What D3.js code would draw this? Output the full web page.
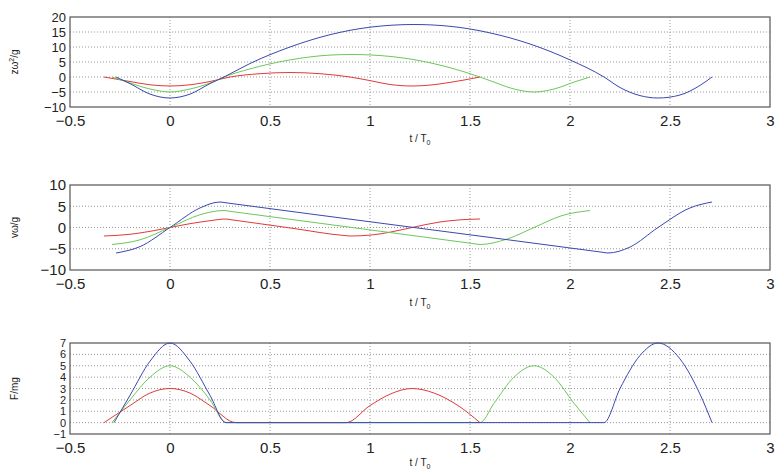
<!DOCTYPE html>
<html>
<head>
<meta charset="utf-8">
<script src="https://cdn.jsdelivr.net/npm/d3@7"></script>
<style>
  body { margin: 0; background: #fff; }
  text { font-family: "Liberation Sans", Arial, sans-serif; }
</style>
</head>
<body>
<div id="chart"></div>
<script>
// series data: [t/T0, value]
var zRed = [[-0.33,0],[-0.2,-1.5],[-0.1,-2.6],[0,-3],[0.1,-2.6],[0.2,-1.5],[0.3,0],[0.45,1.1],[0.6,1.5],[0.75,1.1],[0.9,0],[1.0,-1.2],[1.1,-2.5],[1.21,-3],[1.3,-2.7],[1.4,-1.8],[1.55,0]];
var zGreen = [[-0.29,0],[-0.2,-2],[-0.1,-4],[0,-5],[0.1,-4],[0.2,-2],[0.27,0],[0.4,2.7],[0.6,5.7],[0.8,7.3],[0.91,7.5],[1.0,7.35],[1.2,6.0],[1.4,3.1],[1.55,0],[1.62,-1.7],[1.72,-4],[1.82,-5],[1.92,-4],[2.02,-1.7],[2.1,0]];
var zBlue = [[-0.27,0],[-0.2,-2.2],[-0.1,-5.7],[0,-7],[0.1,-5.7],[0.2,-2.2],[0.27,0],[0.4,4.5],[0.6,10.0],[0.8,14.1],[1.0,16.6],[1.22,17.5],[1.4,16.9],[1.6,14.7],[1.8,11.0],[2.0,5.7],[2.17,0],[2.25,-3.5],[2.35,-6.2],[2.44,-7],[2.55,-6],[2.65,-2.8],[2.71,0]];

var vRed = [[-0.33,-2],[-0.2,-1.6],[-0.1,-0.9],[0,0],[0.1,0.9],[0.2,1.6],[0.28,2],[0.3,1.87],[0.6,-0.1],[0.88,-1.93],[0.9,-2],[1.0,-1.8],[1.1,-1.1],[1.21,0],[1.35,1.3],[1.45,1.8],[1.55,2]];
var vGreen = [[-0.29,-4],[-0.15,-2.9],[0,0],[0.15,3],[0.27,4],[0.3,3.81],[0.9,0.06],[1.52,-3.81],[1.55,-4],[1.68,-2.8],[1.82,0],[1.96,2.8],[2.1,4]];
var vBlue = [[-0.27,-6],[-0.15,-4.5],[0,0],[0.15,4.6],[0.25,6],[0.28,5.81],[1.2,0.12],[2.16,-5.81],[2.19,-6],[2.3,-4.6],[2.44,0],[2.6,4.6],[2.71,6]];

var fRed = [[-0.33,0],[-0.2,1.5],[-0.1,2.6],[0,3],[0.1,2.6],[0.2,1.5],[0.33,0],[0.88,0],[1.0,1.5],[1.1,2.5],[1.21,3],[1.32,2.6],[1.44,1.5],[1.55,0]];
var fGreen = [[-0.29,0],[-0.2,2],[-0.1,4],[0,5],[0.1,4],[0.2,2],[0.28,0],[1.55,0],[1.62,1.7],[1.72,4],[1.82,5],[1.92,4],[2.02,1.7],[2.1,0]];
var fBlue = [[-0.28,0],[-0.2,2.4],[-0.1,5.4],[0,7],[0.1,5.4],[0.2,2.4],[0.28,0],[2.17,0],[2.25,3],[2.35,5.9],[2.44,7],[2.55,5.6],[2.65,2.5],[2.71,0]];

var xTicks = [-0.5, 0, 0.5, 1, 1.5, 2, 2.5, 3];
var zTicks = [-10, -5, 0, 5, 10, 15, 20];
var vTicks = [-10, -5, 0, 5, 10];
var fTicks = [-1, 0, 1, 2, 3, 4, 5, 6, 7];

var colors = { red: "#e03a3a", green: "#6cc85c", blue: "#3a48b0" };

var svg = d3.select("#chart").append("svg").attr("width", 776).attr("height", 472);
var x = d3.scaleLinear().domain([-0.5, 3]).range([70, 770]);

function panel(top, bottom, domain, ticks, ylab, series, xlabY, yFont) {
  var y = d3.scaleLinear().domain(domain).range([bottom, top]);
  var g = svg.append("g");
  // grid
  g.selectAll(".gx").data(xTicks.slice(1, -1)).enter().append("line")
    .attr("x1", d => x(d)).attr("x2", d => x(d)).attr("y1", top).attr("y2", bottom)
    .attr("stroke", "#999").attr("stroke-dasharray", "1,2");
  g.selectAll(".gy").data(ticks.slice(1, -1)).enter().append("line")
    .attr("x1", 70).attr("x2", 770).attr("y1", d => y(d)).attr("y2", d => y(d))
    .attr("stroke", "#999").attr("stroke-dasharray", "1,2");
  g.append("rect").attr("x", 70).attr("y", top).attr("width", 700).attr("height", bottom - top)
    .attr("fill", "none").attr("stroke", "#555").attr("stroke-width", 1.2);

  var ax = g.append("g").attr("transform", "translate(0," + bottom + ")")
    .call(d3.axisBottom(x).tickValues(xTicks).tickSize(0).tickPadding(8).tickFormat(d3.format("")));
  ax.select(".domain").remove();
  ax.selectAll("text").attr("font-size", 15).attr("fill", "#222");
  var ay = g.append("g").attr("transform", "translate(70,0)")
    .call(d3.axisLeft(y).tickValues(ticks).tickSize(0).tickPadding(4).tickFormat(d3.format("")));
  ay.select(".domain").remove();
  ay.selectAll("text").attr("font-size", yFont).attr("fill", "#222");

  var line = d3.line().x(d => x(d[0])).y(d => y(d[1])).curve(d3.curveMonotoneX);
  series.forEach(function (s) {
    g.append("path").datum(s.data).attr("d", line)
      .attr("fill", "none").attr("stroke", s.color).attr("stroke-width", 1);
  });

  var yl = g.append("text").attr("transform", "translate(18," + ((top + bottom) / 2) + ") rotate(-90)")
    .attr("text-anchor", "middle").attr("font-size", 10).attr("fill", "#222");
  ylab(yl);

  var xl = g.append("text").attr("x", 420).attr("y", xlabY).attr("text-anchor", "middle")
    .attr("font-size", 10).attr("fill", "#222");
  xl.append("tspan").text("t / T");
  xl.append("tspan").attr("font-size", 7).attr("dy", 3).text("0");
}

panel(17, 107, [-10, 20], zTicks, function (t) {
  t.append("tspan").text("zω");
  t.append("tspan").attr("font-size", 7).attr("dy", -4).text("2");
  t.append("tspan").attr("dy", 4).text("/g");
}, [{data: zRed, color: colors.red}, {data: zGreen, color: colors.green}, {data: zBlue, color: colors.blue}], 142, 13);

panel(185, 270, [-10, 10], vTicks, function (t) { t.text("vω/g"); },
  [{data: vRed, color: colors.red}, {data: vGreen, color: colors.green}, {data: vBlue, color: colors.blue}], 306, 15);

panel(343, 434, [-1, 7], fTicks, function (t) { t.text("F/mg"); },
  [{data: fRed, color: colors.red}, {data: fGreen, color: colors.green}, {data: fBlue, color: colors.blue}], 466, 11);
</script>
</body>
</html>
